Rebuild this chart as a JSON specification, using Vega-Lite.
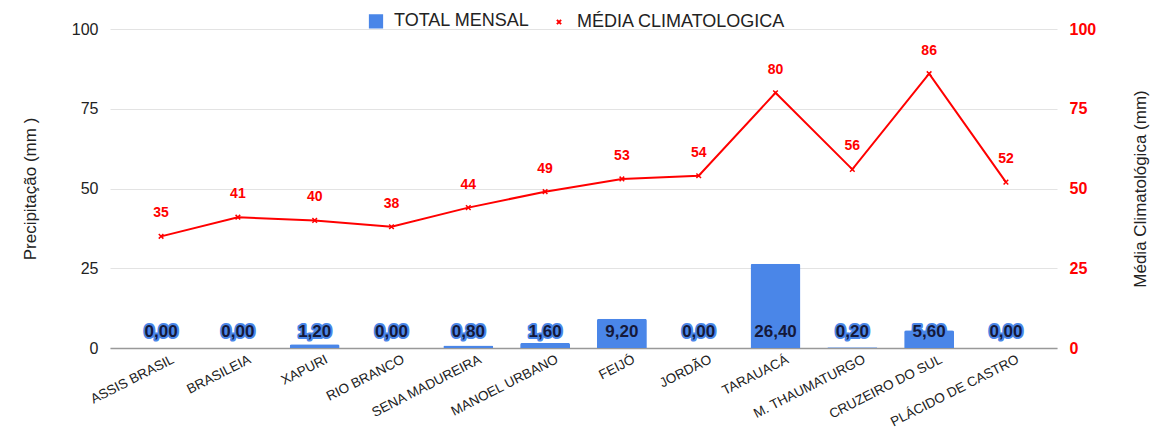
{
  "$schema": "https://vega.github.io/schema/vega-lite/v6.json",
  "autosize": "none",
  "width": 947,
  "height": 319,
  "padding": {"left": 110, "top": 29, "right": 99, "bottom": 85},
  "background": "white",
  "config": {
    "font": "Liberation Sans",
    "view": {"stroke": null},
    "locale": {"number": {"decimal": ",", "thousands": ".", "grouping": [3], "currency": ["R$", ""]}}
  },
  "data": {
    "values": [
      {"estacao": "ASSIS BRASIL", "total": 0.0, "media": 35},
      {"estacao": "BRASILEIA", "total": 0.0, "media": 41},
      {"estacao": "XAPURI", "total": 1.2, "media": 40},
      {"estacao": "RIO BRANCO", "total": 0.0, "media": 38},
      {"estacao": "SENA MADUREIRA", "total": 0.8, "media": 44},
      {"estacao": "MANOEL URBANO", "total": 1.6, "media": 49},
      {"estacao": "FEIJÓ", "total": 9.2, "media": 53},
      {"estacao": "JORDÃO", "total": 0.0, "media": 54},
      {"estacao": "TARAUACÁ", "total": 26.4, "media": 80},
      {"estacao": "M. THAUMATURGO", "total": 0.2, "media": 56},
      {"estacao": "CRUZEIRO DO SUL", "total": 5.6, "media": 86},
      {"estacao": "PLÁCIDO DE CASTRO", "total": 0.0, "media": 52}
    ]
  },
  "encoding": {
    "x": {
      "field": "estacao", "type": "nominal", "sort": null,
      "scale": {"paddingInner": 0.35, "paddingOuter": 0.34},
      "axis": {
        "title": null, "labelAngle": -27, "labelAlign": "right", "labelBaseline": "top",
        "labelFontSize": 13.5, "labelColor": "#222222", "labelPadding": 4, "labelOffset": 9, "labelLimit": 0,
        "ticks": false, "domainColor": "#999999", "domainWidth": 1.5, "grid": false
      }
    }
  },
  "layer": [
    {
      "layer": [
        {
          "mark": {"type": "bar", "cornerRadiusTopLeft": 2, "cornerRadiusTopRight": 2},
          "encoding": {
            "y": {
              "field": "total", "type": "quantitative",
              "scale": {"domain": [0, 100]},
              "axis": {
                "title": "Precipitação (mm )", "titleFontSize": 17, "titleFontWeight": "normal", "titleColor": "#222222",
                "titlePadding": 32,
                "values": [0, 25, 50, 75, 100], "labelFontSize": 16, "labelColor": "#222222", "labelPadding": 12,
                "ticks": false, "domain": false, "gridColor": "#e3e3e3"
              }
            },
            "color": {
              "datum": "TOTAL MENSAL", "type": "nominal",
              "scale": {"domain": ["TOTAL MENSAL", "MÉDIA CLIMATOLOGICA"], "range": ["#4a86e8", "#ff0000"]},
              "legend": {
                "title": null, "orient": "none", "direction": "horizontal",
                "legendX": 257, "legendY": -17, "labelFontSize": 18, "labelColor": "#222222", "labelLimit": 0,
                "columnPadding": 20, "symbolSize": 150, "labelOffset": 9,
                "encode": {
                  "symbols": {
                    "update": {
                      "shape": {"signal": "datum.value == 'TOTAL MENSAL' ? 'square' : 'M-0.5,-0.5L0.5,0.5M-0.5,0.5L0.5,-0.5'"},
                      "size": {"signal": "datum.value == 'TOTAL MENSAL' ? 150 : 70"},
                      "strokeWidth": {"value": 2},
                      "stroke": {"signal": "datum.value == 'TOTAL MENSAL' ? '#4a86e8' : '#ff0000'"},
                      "fill": {"signal": "datum.value == 'TOTAL MENSAL' ? '#4a86e8' : 'transparent'"}
                    }
                  }
                }
              }
            }
          }
        },
        {
          "mark": {"type": "text", "fontSize": 17, "fontWeight": "bold", "baseline": "middle", "dy": -16, "stroke": "#4a86e8", "strokeWidth": 4, "strokeJoin": "round", "fill": "#4a86e8"},
          "encoding": {
            "y": {"datum": 0, "type": "quantitative"},
            "text": {"field": "total", "type": "quantitative", "format": ".2f"}
          }
        },
        {
          "mark": {"type": "text", "fontSize": 17, "fontWeight": "bold", "baseline": "middle", "dy": -16, "fill": "#15193a"},
          "encoding": {
            "y": {"datum": 0, "type": "quantitative"},
            "text": {"field": "total", "type": "quantitative", "format": ".2f"}
          }
        }
      ]
    },
    {
      "layer": [
        {
          "mark": {"type": "line", "color": "#ff0000", "strokeWidth": 2},
          "encoding": {
            "y": {
              "field": "media", "type": "quantitative",
              "scale": {"domain": [0, 100]},
              "axis": {
                "orient": "right",
                "title": "Média Climatológica (mm)", "titleFontSize": 17, "titleFontWeight": "normal", "titleColor": "#222222",
                "titleAngle": -90, "titlePadding": 54,
                "values": [0, 25, 50, 75, 100], "labelFontSize": 16, "labelFontWeight": "bold", "labelColor": "#ff0000", "labelPadding": 12,
                "ticks": false, "domain": false, "grid": false
              }
            }
          }
        },
        {
          "mark": {"type": "point", "shape": "M-0.5,-0.5L0.5,0.5M-0.5,0.5L0.5,-0.5", "filled": false, "size": 85, "strokeWidth": 1.5, "opacity": 1},
          "encoding": {
            "y": {"field": "media", "type": "quantitative"},
            "color": {"datum": "MÉDIA CLIMATOLOGICA", "type": "nominal"}
          }
        },
        {
          "mark": {"type": "text", "fontSize": 14, "fontWeight": "bold", "color": "#ff0000", "baseline": "middle", "dy": -23},
          "encoding": {
            "y": {"field": "media", "type": "quantitative"},
            "text": {"field": "media", "type": "quantitative"}
          }
        }
      ]
    }
  ],
  "resolve": {"scale": {"y": "independent"}}
}
